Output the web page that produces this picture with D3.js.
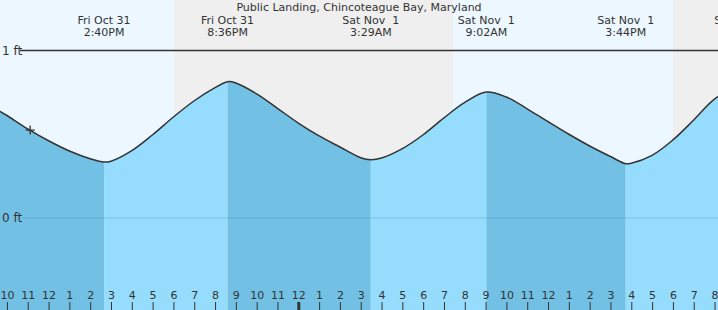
<!DOCTYPE html>
<html>
<head>
<meta charset="utf-8">
<script src="https://cdn.jsdelivr.net/npm/d3@7"></script>
<style>
  body { margin: 0; background: #fff; }
  svg { display: block; font-family: "DejaVu Sans", sans-serif; }
</style>
</head>
<body>
<div id="chart"></div>
<script>
// tide station
const title = "Public Landing, Chincoteague Bay, Maryland";

// curve (local time, feet)
const sampleTimes = [
  "2025-10-31 09:40", "2025-10-31 10:00", "2025-10-31 11:00", "2025-10-31 12:00",
  "2025-10-31 13:00", "2025-10-31 14:00", "2025-10-31 14:40", "2025-10-31 15:00",
  "2025-10-31 16:00", "2025-10-31 17:00", "2025-10-31 18:00", "2025-10-31 19:00",
  "2025-10-31 20:00", "2025-10-31 20:36", "2025-10-31 21:00", "2025-10-31 22:00",
  "2025-10-31 23:00", "2025-11-01 00:00", "2025-11-01 01:00", "2025-11-01 02:00",
  "2025-11-01 03:00", "2025-11-01 03:29", "2025-11-01 04:00", "2025-11-01 05:00",
  "2025-11-01 06:00", "2025-11-01 07:00", "2025-11-01 08:00", "2025-11-01 09:02",
  "2025-11-01 10:00", "2025-11-01 11:00", "2025-11-01 12:00", "2025-11-01 13:00",
  "2025-11-01 14:00", "2025-11-01 15:00", "2025-11-01 15:44", "2025-11-01 16:00",
  "2025-11-01 17:00", "2025-11-01 18:00", "2025-11-01 19:00", "2025-11-01 20:00",
  "2025-11-01 21:21"
];
const sampleFeet = [
  0.637, 0.612, 0.532, 0.461,
  0.400, 0.354, 0.334, 0.339,
  0.402, 0.497, 0.603, 0.700,
  0.778, 0.814, 0.806, 0.741,
  0.655, 0.567, 0.490, 0.424,
  0.360, 0.348, 0.358, 0.414,
  0.497, 0.598, 0.690, 0.752,
  0.722, 0.652, 0.575, 0.500,
  0.430, 0.367, 0.324, 0.327,
  0.374, 0.466, 0.585, 0.710,
  0.800
];

// highs and lows
const extremeTimes = [
  "2025-10-31 14:40", "2025-10-31 20:36", "2025-11-01 03:29",
  "2025-11-01 09:02", "2025-11-01 15:44", "2025-11-01 21:21"
];

// night (grey) bands
const nightStarts = ["2025-10-31 18:02", "2025-11-01 18:00"];
const nightEnds   = ["2025-11-01 07:26", "2025-11-01 23:59"];

// current time marker
const nowTime = "2025-10-31 11:07";
const nowFeet = 0.525;

const feetTicks = [0, 1];
const viewStart = "2025-10-31 09:40";
const viewEnd = "2025-11-01 20:10";

const W = 718, H = 310;
const parse = d3.timeParse("%Y-%m-%d %H:%M");

const svg = d3.select("#chart").append("svg")
  .attr("width", W).attr("height", H);

const x = d3.scaleTime()
  .domain([parse(viewStart), parse(viewEnd)])
  .range([0, W]);
const y = d3.scaleLinear()
  .domain([0, 1])
  .range([218, 50.5]);

// day / night background
svg.append("rect").attr("width", W).attr("height", H).attr("fill", "#edf7ff");
svg.selectAll(".night").data(nightStarts).enter().append("rect")
  .attr("class", "night")
  .attr("x", (d) => x(parse(d)))
  .attr("width", (d, i) => x(parse(nightEnds[i])) - x(parse(d)))
  .attr("y", 0).attr("height", H)
  .attr("fill", "#efefef");

const pts = sampleTimes.map((t, i) => ({ t: parse(t), v: sampleFeet[i] }));

const curve = d3.curveCatmullRom.alpha(0.5);
const area = d3.area()
  .x((d) => x(d.t)).y0(H).y1((d) => y(d.v))
  .curve(curve);
const line = d3.line()
  .x((d) => x(d.t)).y((d) => y(d.v))
  .curve(curve);

svg.append("clipPath").attr("id", "water")
  .append("path").attr("d", area(pts));

// rising / falling fill, split at each high and low
const edges = [parse(viewStart)].concat(extremeTimes.map(parse));
const segs = edges.map((t, i) => ({
  a: t,
  b: i + 1 < edges.length ? edges[i + 1] : parse(viewEnd),
  falling: i % 2 === 0
}));
svg.append("g").attr("clip-path", "url(#water)")
  .selectAll("rect").data(segs).enter().append("rect")
  .attr("x", (d) => x(d.a))
  .attr("width", (d) => Math.max(0, x(d.b) - x(d.a)))
  .attr("y", 0).attr("height", H)
  .attr("fill", (d) => d.falling ? "#72c0e4" : "#96dcfd");

// zero line
svg.append("line")
  .attr("x1", 22).attr("x2", W)
  .attr("y1", y(0)).attr("y2", y(0))
  .style("stroke", "#2b7fb0").style("stroke-opacity", 0.25).style("stroke-width", 1);

// 1 ft line
svg.append("line")
  .attr("x1", 20).attr("x2", W)
  .attr("y1", y(1)).attr("y2", y(1))
  .style("stroke", "#333").style("stroke-width", 1.3);

svg.selectAll(".ylab").data(feetTicks).enter().append("text")
  .attr("class", "ylab")
  .attr("x", 2).attr("y", (d) => y(d)).attr("dy", "0.35em")
  .style("font-size", "12px").style("fill", "#333")
  .text((d) => d + " ft");

// tide curve
svg.append("path").attr("d", line(pts))
  .attr("fill", "none")
  .style("stroke", "#333").style("stroke-width", 1.5);

// now marker
const nx = x(parse(nowTime)), ny = y(nowFeet);
svg.append("path")
  .attr("d", `M${nx - 4.5},${ny}H${nx + 4.5}M${nx},${ny - 4.5}V${ny + 4.5}`)
  .style("stroke", "#333").style("stroke-width", 1.3);

// title and extreme labels
svg.append("text")
  .attr("x", W / 2).attr("y", 11)
  .attr("text-anchor", "middle")
  .style("font-size", "11px").style("fill", "#333")
  .text(title);

const dayFmt = d3.timeFormat("%a %b %e");
const timeFmt = d3.timeFormat("%-I:%M%p");
const lab = svg.selectAll(".ext").data(extremeTimes.map(parse)).enter().append("g")
  .attr("class", "ext")
  .attr("transform", (d) => `translate(${x(d)},0)`);
lab.append("text").attr("y", 24)
  .attr("text-anchor", "middle").style("white-space", "pre")
  .style("font-size", "11px").style("fill", "#333")
  .text((d) => dayFmt(d));
lab.append("text").attr("y", 36)
  .attr("text-anchor", "middle")
  .style("font-size", "11px").style("fill", "#333")
  .text((d) => timeFmt(d));

// hour axis
const axisG = svg.append("g")
  .attr("transform", `translate(0,${H})`)
  .call(d3.axisTop(x)
    .ticks(d3.timeHour.every(1))
    .tickFormat(d3.timeFormat("%-I"))
    .tickSize(8).tickPadding(3));
axisG.select(".domain").remove();
axisG.selectAll("text").style("font-size", "11px").style("fill", "#333")
  .style("font-family", '"DejaVu Sans", sans-serif');
axisG.selectAll("line").style("stroke", "#333")
  .style("stroke-width", (d) => d.getHours() === 0 ? 3 : 1);
</script>
</body>
</html>
